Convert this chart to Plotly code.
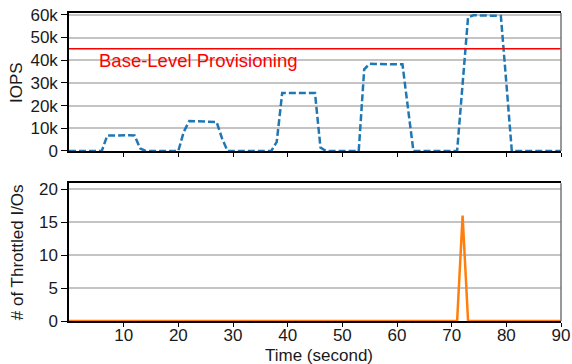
import plotly.graph_objects as go
from plotly.subplots import make_subplots

# ---- data ----
time_s = list(range(0, 91))
iops = ([0] * 7 +                                   # 0-6
        [6800, 6900, 6900, 6900, 6900, 6800] +      # 7-12
        [1200, 0] +                                 # 13-14
        [0] * 6 +                                   # 15-20
        [8500, 13200, 13100, 13000, 12900, 12800, 12800] +  # 21-27
        [5500, 0] +                                 # 28-29
        [0] * 8 +                                   # 30-37
        [4000, 25600, 25600, 25600, 25500, 25500, 25500, 25500] +  # 38-45
        [1500, 0] +                                 # 46-47
        [0] * 6 +                                   # 48-53
        [36000, 38400, 38300, 38300, 38300, 38300, 38300, 38200] +  # 54-61
        [19000, 0] +                                # 62-63
        [0] * 8 +                                   # 64-71
        [29500, 59000, 59800, 59800, 59700, 59600, 59600, 59500] +  # 72-79
        [30000, 0] +                                # 80-81
        [0] * 9)                                    # 82-90
throttled = [0] * 91
throttled[72] = 16

BASE_LEVEL = 45000
BASE_LABEL = "Base-Level Provisioning"

x_ticks = [10, 20, 30, 40, 50, 60, 70, 80, 90]
iops_ticks = [0, 10000, 20000, 30000, 40000, 50000, 60000]
iops_tick_text = ["0", "10k", "20k", "30k", "40k", "50k", "60k"]
thr_ticks = [0, 5, 10, 15, 20]

FONT = "Liberation Sans, Arial, sans-serif"
FS = 17
TXT = "#1a1a1a"

fig = make_subplots(rows=2, cols=1, vertical_spacing=0.1)

fig.add_trace(go.Scatter(x=time_s, y=iops, mode="lines",
                         line=dict(color="#1f77b4", width=2.5, dash="7px,3px"),
                         cliponaxis=False, showlegend=False), row=1, col=1)
fig.add_trace(go.Scatter(x=[time_s[0], time_s[-1]], y=[BASE_LEVEL, BASE_LEVEL], mode="lines",
                         line=dict(color="#ff0000", width=1.5),
                         showlegend=False), row=1, col=1)
fig.add_trace(go.Scatter(x=time_s, y=throttled, mode="lines",
                         line=dict(color="#ff7f0e", width=2.5),
                         cliponaxis=False, showlegend=False), row=2, col=1)

common_x = dict(range=[0, 90], tickvals=x_ticks, ticks="outside", ticklen=4,
                tickcolor="#000", linecolor="#000", linewidth=1.5, mirror=True,
                showgrid=False, zeroline=False, automargin=False,
                tickfont=dict(family=FONT, size=FS, color=TXT))
common_y = dict(ticks="outside", ticklen=6, tickcolor="#000", linecolor="#000",
                linewidth=1.5, showgrid=True, gridcolor="#c4c4c4", gridwidth=1.5,
                zeroline=False, automargin=False,
                tickfont=dict(family=FONT, size=FS, color=TXT))

fig.update_xaxes(**common_x, showticklabels=False, row=1, col=1)
fig.update_xaxes(**common_x, showticklabels=True, ticklabelstandoff=-6, row=2, col=1)
fig.update_yaxes(**common_y, range=[0, 60800], tickvals=iops_ticks,
                 ticktext=iops_tick_text, row=1, col=1)
fig.update_yaxes(**common_y, range=[0, 20.9], tickvals=thr_ticks, row=2, col=1)

fig.update_layout(
    width=572, height=364,
    margin=dict(l=69, r=11, t=13, b=43),
    paper_bgcolor="white", plot_bgcolor="white",
    font=dict(family=FONT, size=FS, color=TXT),
    xaxis=dict(domain=[0, 1]), xaxis2=dict(domain=[0, 1]),
    yaxis=dict(domain=[0.552, 1.0]), yaxis2=dict(domain=[0.0, 0.447]),
)

# right borders (gray)
for xr, yr in (("x domain", "y domain"), ("x2 domain", "y2 domain")):
    fig.add_shape(type="line", xref=xr, yref=yr, x0=1, x1=1, y0=0, y1=1,
                  line=dict(color="#777", width=1.5))

fig.add_annotation(x=0.057, xref="x domain", y=BASE_LEVEL, yref="y",
                   text=BASE_LABEL, showarrow=False, xanchor="left", yanchor="top",
                   yshift=1, font=dict(family=FONT, size=18.5, color="#ff0000"))

fig.add_annotation(x=-0.1057, xref="paper", y=0.552 + 0.448 / 2, yref="paper",
                   text="IOPS", textangle=-90, showarrow=False,
                   xanchor="center", yanchor="middle", font=dict(family=FONT, size=FS, color=TXT))
fig.add_annotation(x=-0.1057, xref="paper", y=0.447 / 2, yref="paper",
                   text="# of Throttled I/Os", textangle=-90, showarrow=False,
                   xanchor="center", yanchor="middle", font=dict(family=FONT, size=FS, color=TXT))
fig.add_annotation(x=0.509, xref="paper", y=-0.112, yref="paper",
                   text="Time (second)", showarrow=False,
                   xanchor="center", yanchor="middle", font=dict(family=FONT, size=FS, color=TXT))

fig.write_html("out.html", config={"displayModeBar": False},
               post_script="document.body.style.margin='0';")
